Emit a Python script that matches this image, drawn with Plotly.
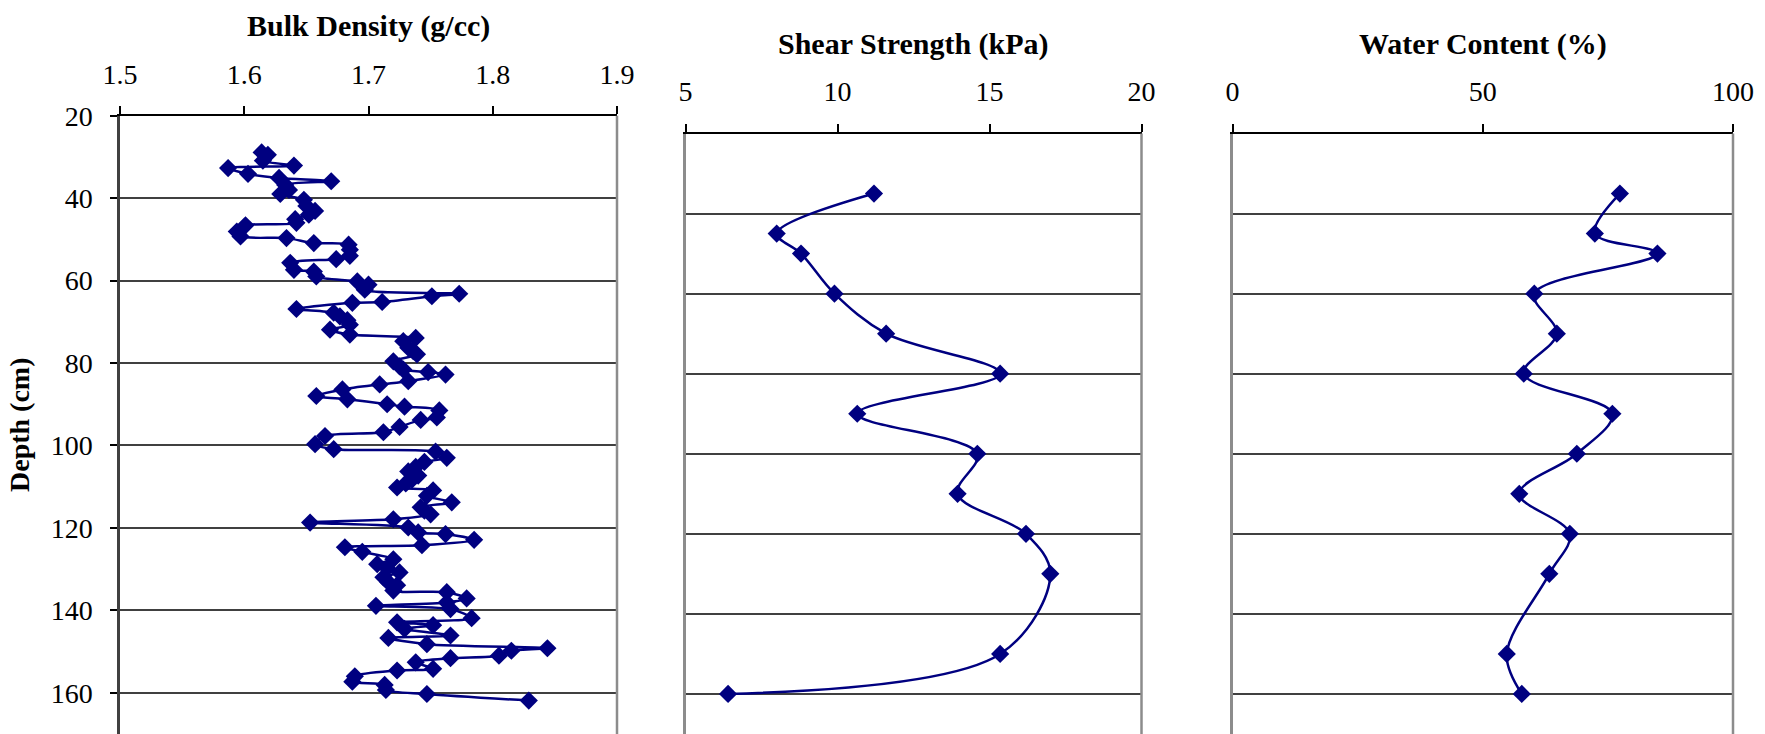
import plotly.graph_objects as go

# ---------------- data ----------------
bd_depth = [28.9, 29.5, 30.9, 32.1, 32.7, 34.1, 35.1, 35.9, 36.8, 38.0,
            39.0, 40.4, 41.9, 43.1, 44.0, 45.1, 46.0, 46.6, 48.1, 49.3,
            49.7, 50.9, 51.3, 52.5, 54.0, 54.8, 55.7, 57.4, 57.8, 59.0,
            60.2, 61.0, 62.2, 63.2, 63.8, 65.2, 65.4, 66.9, 67.8, 68.7,
            69.6, 70.7, 71.9, 73.1, 73.9, 74.7, 76.3, 77.1, 77.9, 79.6,
            80.8, 81.6, 82.2, 82.8, 84.4, 85.2, 86.4, 88.0, 88.8, 90.0,
            90.6, 91.5, 93.2, 93.8, 95.5, 96.8, 97.7, 99.7, 100.9, 101.5,
            103.0, 104.0, 105.2, 106.3, 107.3, 108.3, 109.2, 110.2, 110.9, 112.2,
            113.8, 115.0, 115.8, 116.7, 117.9, 118.7, 119.9, 121.1, 121.5, 122.9,
            124.2, 124.7, 125.8, 127.6, 128.8, 129.8, 130.8, 132.0, 133.2, 133.9,
            135.2, 135.6, 137.1, 138.1, 138.9, 139.7, 141.9, 142.9, 143.6, 144.5,
            146.1, 146.7, 148.2, 149.2, 149.8, 151.0, 151.6, 152.6, 154.2, 154.6,
            156.0, 157.3, 158.1, 159.3, 160.3, 161.9]
bd_value = [1.614, 1.619, 1.615, 1.640, 1.587, 1.603, 1.628, 1.670, 1.633, 1.636,
            1.629, 1.648, 1.650, 1.657, 1.652, 1.641, 1.642, 1.601, 1.594, 1.597,
            1.634, 1.656, 1.684, 1.685, 1.685, 1.674, 1.637, 1.640, 1.656, 1.658,
            1.691, 1.700, 1.697, 1.773, 1.751, 1.711, 1.687, 1.642, 1.672, 1.677,
            1.683, 1.685, 1.669, 1.685, 1.738, 1.728, 1.732, 1.736, 1.739, 1.720,
            1.725, 1.728, 1.748, 1.762, 1.732, 1.709, 1.679, 1.658, 1.683, 1.715,
            1.729, 1.757, 1.755, 1.742, 1.725, 1.712, 1.665, 1.657, 1.672, 1.754,
            1.763, 1.745, 1.738, 1.732, 1.740, 1.735, 1.730, 1.723, 1.752, 1.747,
            1.767, 1.742, 1.745, 1.750, 1.720, 1.653, 1.732, 1.740, 1.762, 1.785,
            1.743, 1.681, 1.695, 1.720, 1.707, 1.715, 1.725, 1.712, 1.716, 1.723,
            1.720, 1.763, 1.779, 1.763, 1.706, 1.766, 1.783, 1.723, 1.752, 1.729,
            1.766, 1.716, 1.747, 1.844, 1.815, 1.805, 1.766, 1.738, 1.752, 1.723,
            1.689, 1.687, 1.713, 1.714, 1.747, 1.829]

ss_depth = [35, 45, 50, 60, 70, 80, 90, 100, 110, 120, 130, 150, 160]
ss_value = [11.2, 8.0, 8.8, 9.9, 11.6, 15.35, 10.65, 14.6, 13.95, 16.2, 17.0, 15.35, 6.4]

wc_depth = [35, 45, 50, 60, 70, 80, 90, 100, 110, 120, 130, 150, 160]
wc_value = [77.4, 72.4, 84.9, 60.3, 64.8, 58.2, 75.9, 68.8, 57.3, 67.4, 63.3, 54.8, 57.8]

depth_ticks = [20, 40, 60, 80, 100, 120, 140, 160]
bd_ticks = [1.5, 1.6, 1.7, 1.8, 1.9]
ss_ticks = [5, 10, 15, 20]
wc_ticks = [0, 50, 100]

titles = ["Bulk Density (g/cc)", "Shear Strength (kPa)", "Water Content (%)"]
y_title = "Depth (cm)"

# ---------------- styling ----------------
W, H = 1765, 734
NAVY = "#000080"
FONT = "Liberation Serif"
TICK_SIZE = 28
TITLE_SIZE = 30

xdom = [[120 / W, 617 / W], [685.5 / W, 1141.5 / W], [1232.5 / W, 1733 / W]]
ytop = [1 - 115.7 / H, 1 - 133.5 / H, 1 - 133.5 / H]

fig = go.Figure()

series = [(bd_value, bd_depth), (ss_value, ss_depth), (wc_value, wc_depth)]
for i, (xv, yv) in enumerate(series):
    sfx = "" if i == 0 else str(i + 1)
    fig.add_trace(go.Scatter(
        x=xv, y=yv, xaxis="x" + sfx, yaxis="y" + sfx,
        mode="lines+markers",
        line=dict(color=NAVY, width=2.5, shape="spline", smoothing=0.8 if i == 0 else 1.0),
        marker=dict(symbol="diamond", size=14, color=NAVY),
        showlegend=False, hoverinfo="skip"))

xranges = [[1.5, 1.9], [5, 20], [0, 100]]
xticks = [bd_ticks, ss_ticks, wc_ticks]
xtext = [[f"{t:.1f}" for t in bd_ticks], [str(t) for t in ss_ticks], [str(t) for t in wc_ticks]]

layout = dict(
    width=W, height=H,
    margin=dict(l=0, r=0, t=0, b=0, pad=0, autoexpand=False),
    paper_bgcolor="white", plot_bgcolor="white",
    font=dict(family=FONT, color="black", size=TICK_SIZE),
    showlegend=False,
)

for i in range(3):
    sfx = "" if i == 0 else str(i + 1)
    layout["xaxis" + sfx] = dict(
        domain=xdom[i], range=xranges[i], side="top", anchor="y" + sfx,
        tickmode="array", tickvals=xticks[i], ticktext=xtext[i],
        ticks="outside", ticklen=8, tickwidth=1.5, tickcolor="black",
        ticklabelstandoff=11,
        showline=True, linecolor="black", linewidth=2,
        showgrid=False, zeroline=False, automargin=False,
        tickfont=dict(family=FONT, size=TICK_SIZE, color="black"),
        fixedrange=True,
    )
    ya = dict(
        domain=[0, ytop[i]], range=[170, 20], anchor="x" + sfx,
        tickmode="array", tickvals=depth_ticks,
        showgrid=True, gridcolor="#404040", gridwidth=1.5,
        zeroline=False, showline=True, automargin=False,
        fixedrange=True,
    )
    if i == 0:
        ya.update(ticks="outside", ticklen=7, tickwidth=1.5, tickcolor="black",
                  showticklabels=True, ticklabelstandoff=12,
                  tickfont=dict(family=FONT, size=TICK_SIZE, color="black"),
                  linecolor="#404040", linewidth=2.5)
    else:
        ya.update(ticks="", showticklabels=False, linecolor="#8c8c8c", linewidth=3)
    layout["yaxis" + sfx] = ya

fig.update_layout(**layout)

# right-hand plot-area borders
for i in range(3):
    sfx = "" if i == 0 else str(i + 1)
    fig.add_shape(type="line", xref=f"x{sfx} domain", yref=f"y{sfx} domain",
                  x0=1, x1=1, y0=0, y1=1, line=dict(color="#8c8c8c", width=2.5))

# titles
title_x = [368.5, 913.5, 1482.75]
title_y = [26, 44, 44]
for t, tx, ty in zip(titles, title_x, title_y):
    fig.add_annotation(text=f"<b>{t}</b>", x=tx / W, y=1 - ty / H, xref="paper", yref="paper",
                       xanchor="center", yanchor="middle", showarrow=False,
                       font=dict(family=FONT, size=TITLE_SIZE, color="black"))

fig.add_annotation(text=f"<b>{y_title}</b>", x=20 / W, y=1 - 425 / H, xref="paper", yref="paper",
                   xanchor="center", yanchor="middle", showarrow=False, textangle=-90,
                   font=dict(family=FONT, size=TITLE_SIZE - 2, color="black"))

fig.write_html("out.html")
